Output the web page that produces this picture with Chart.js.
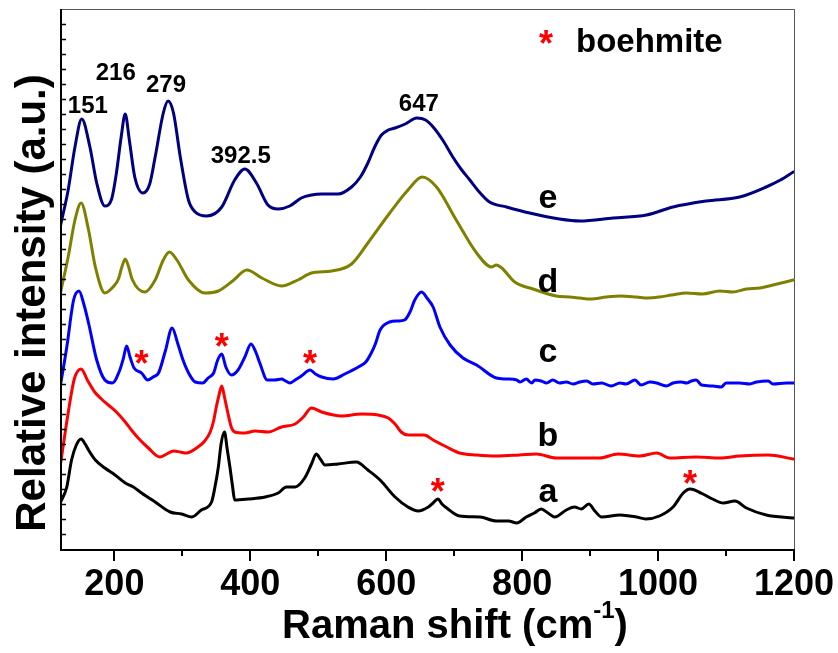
<!DOCTYPE html>
<html>
<head>
<meta charset="utf-8">
<script src="https://cdn.jsdelivr.net/npm/chart.js@4/dist/chart.umd.min.js"></script>
<style>
  html, body { margin: 0; padding: 0; background: #fff; }
  #wrap { width: 838px; height: 653px; }
</style>
</head>
<body>
<div id="wrap"><canvas id="raman" width="838" height="653"></canvas></div>
<script>
// Raman shift axis (cm-1)
const xTickValues = [200, 400, 600, 800, 1000, 1200];
const xMinorTickValues = [300, 500, 700, 900, 1100];
const yTickStep = 15;

// Sample a
const shiftA = [121, 130, 137, 144, 151, 157, 162, 172, 186, 201, 216, 228, 240, 260, 282, 299, 314, 328, 343, 348,
  353, 357, 362, 366, 370, 374, 377, 397, 422, 441, 453, 466, 480, 490, 497, 503, 510, 529, 556, 573,
  591, 613, 632, 647, 662, 669, 676, 682, 689, 708, 738, 762, 780, 792, 806, 818, 828, 838, 848, 865,
  877, 887, 898, 907, 917, 944, 968, 982, 1002, 1022, 1037, 1047, 1066, 1080, 1096, 1113, 1130, 1159, 1199];
const intensityA = [47, 62, 89, 104, 110, 105, 99, 89, 81, 74, 66, 62, 56, 47, 37, 35, 32, 39, 47, 62,
  82, 105, 117, 100, 82, 62, 49, 50, 52, 56, 62, 62, 71, 85, 95, 90, 84, 85, 87, 79,
  69, 52, 42, 38, 42, 46, 50, 45, 41, 33, 32, 28, 28, 26, 32, 36, 40, 36, 32, 39,
  42, 40, 45, 38, 32, 34, 32, 30, 33, 42, 56, 60, 55, 50, 46, 48, 41, 34, 31];

// Sample b
const shiftB = [121, 132, 141, 151, 161, 171, 181, 191, 203, 216, 225, 235, 250, 267, 277, 287, 297, 306, 323, 333,
  341, 346, 350, 354, 358, 362, 367, 372, 377, 392, 407, 426, 446, 466, 478, 490, 505, 534, 564, 588,
  603, 613, 622, 632, 656, 669, 689, 708, 733, 762, 796, 821, 850, 885, 914, 941, 973, 998, 1017, 1056,
  1091, 1120, 1162, 1199];
const intensityB = [86, 136, 170, 180, 168, 157, 150, 144, 137, 127, 119, 111, 101, 92, 95, 98, 97, 96, 102, 108,
  117, 128, 142, 154, 163, 152, 136, 122, 117, 116, 118, 117, 122, 125, 132, 141, 137, 133, 135, 134,
  131, 125, 117, 114, 114, 109, 102, 96, 94, 93, 94, 95, 91, 91, 91, 95, 93, 96, 91, 92,
  91, 93, 94, 90];

// Sample c
const shiftC = [121, 130, 140, 148, 155, 162, 174, 186, 197, 208, 213, 218, 223, 229, 240, 249, 257, 265, 275, 285,
  293, 301, 310, 319, 330, 338, 346, 352, 358, 364, 372, 382, 392, 401, 408, 414, 425, 436, 446, 452,
  458, 466, 475, 488, 496, 505, 522, 539, 559, 570, 578, 584, 591, 605, 617, 627, 635, 642, 652, 660,
  669, 679, 694, 713, 733, 762, 777, 792, 797, 806, 814, 819, 828, 836, 845, 855, 865, 875, 885, 895,
  904, 917, 931, 944, 953, 966, 975, 988, 998, 1012, 1022, 1034, 1042, 1049, 1056, 1064, 1081, 1093, 1100, 1120,
  1135, 1145, 1162, 1169, 1189, 1199];
const intensityC = [165, 202, 249, 258, 245, 226, 189, 169, 166, 179, 190, 203, 192, 181, 176, 169, 172, 176, 198, 221,
  206, 189, 175, 167, 166, 171, 176, 189, 195, 182, 174, 179, 192, 205, 197, 186, 169, 169, 170, 168,
  166, 169, 173, 179, 175, 172, 170, 175, 182, 187, 196, 205, 219, 227, 228, 229, 237, 249, 257, 251,
  242, 222, 204, 191, 184, 171, 170, 169, 167, 170, 166, 169, 168, 166, 169, 166, 167, 165, 167, 168,
  165, 166, 163, 166, 165, 169, 164, 167, 166, 163, 166, 167, 166, 168, 169, 164, 163, 162, 166, 166,
  165, 167, 168, 165, 166, 166];

// Sample d
const shiftD = [121, 132, 142, 151, 162, 172, 186, 198, 206, 211, 216, 221, 226, 245, 260, 272, 281, 292, 309, 333,
  353, 374, 395, 417, 446, 470, 490, 520, 549, 573, 603, 632, 653, 674, 703, 733, 755, 762, 770, 789,
  816, 850, 870, 885, 900, 924, 945, 968, 985, 1002, 1020, 1042, 1065, 1091, 1110, 1130, 1150, 1169, 1199];
const intensityD = [257, 292, 329, 346, 319, 282, 256, 262, 270, 282, 290, 282, 270, 257, 269, 289, 297, 289, 269, 256,
  258, 268, 279, 271, 263, 269, 276, 278, 285, 306, 334, 359, 372, 362, 329, 296, 282, 284, 281, 267,
  260, 253, 252, 251, 250, 252, 253, 252, 251, 252, 254, 256, 255, 258, 257, 260, 261, 264, 269];

// Sample e
const shiftE = [121, 132, 142, 152, 164, 174, 186, 196, 203, 210, 216, 222, 230, 242, 252, 260, 272, 279, 287, 297,
  309, 319, 336, 358, 377, 392, 409, 426, 441, 458, 475, 490, 505, 529, 549, 562, 573, 583, 593, 603,
  613, 628, 645, 658, 669, 684, 698, 710, 723, 737, 752, 777, 811, 855, 885, 934, 983, 1022, 1071, 1120,
  1159, 1180, 1199];
const intensityE = [324, 359, 402, 430, 402, 366, 343, 350, 376, 412, 435, 409, 372, 356, 365, 392, 436, 448, 436, 392,
  349, 337, 333, 342, 369, 380, 366, 344, 340, 343, 351, 354, 355, 355, 362, 372, 386, 402, 414, 419,
  421, 425, 431, 429, 422, 408, 392, 380, 369, 357, 347, 342, 336, 330, 328, 331, 334, 342, 348, 352,
  362, 369, 377];

// Band positions annotated above spectrum e
const peakLabels = ['151', '216', '279', '392.5', '647'];
const peakLabelShift = [161, 202, 276, 386, 648];
const peakLabelLevel = [436, 469, 457, 386, 438];

// Boehmite bands marked with a red asterisk
const boehmiteShift = [240, 358, 488, 676, 1047];
const boehmiteLevel = [192, 209, 192, 64, 72];

// Curve letters
const curveLetters = ['a', 'b', 'c', 'd', 'e'];
const curveLetterShift = [838, 838, 838, 838, 838];
const curveLetterLevel = [47, 103, 187, 257, 341];

const FONT = '"Liberation Sans", Arial, Helvetica, sans-serif';

function series(xs, ys) { return xs.map((x, i) => ({ x: x, y: ys[i] })); }
function lineSet(label, xs, ys, color) {
  return {
    label: label,
    data: series(xs, ys),
    borderColor: color,
    borderWidth: 3,
    pointRadius: 0,
    fill: false,
    cubicInterpolationMode: 'monotone',
    borderJoinStyle: 'round',
    borderCapStyle: 'round'
  };
}

const framePlugin = {
  id: 'frame',
  afterDatasetsDraw(chart) {
    const { ctx, chartArea: a, scales } = chart;
    const xs = scales.x, ys = scales.y;
    ctx.save();
    // thin top and right border
    ctx.strokeStyle = '#555';
    ctx.lineWidth = 1;
    ctx.beginPath();
    ctx.moveTo(a.left, a.top + 0.5);
    ctx.lineTo(a.right + 0.5, a.top + 0.5);
    ctx.lineTo(a.right + 0.5, a.bottom);
    ctx.stroke();
    // bold left and bottom axes
    ctx.strokeStyle = '#000';
    ctx.lineWidth = 2;
    ctx.beginPath();
    ctx.moveTo(a.left + 1, a.top);
    ctx.lineTo(a.left + 1, a.bottom + 1);
    ctx.lineTo(a.right + 1, a.bottom + 1);
    ctx.stroke();
    // x ticks, pointing out
    ctx.beginPath();
    xTickValues.forEach(v => {
      const px = Math.round(xs.getPixelForValue(v));
      ctx.moveTo(px, a.bottom + 1);
      ctx.lineTo(px, a.bottom + 12);
    });
    xMinorTickValues.forEach(v => {
      const px = Math.round(xs.getPixelForValue(v));
      ctx.moveTo(px, a.bottom + 1);
      ctx.lineTo(px, a.bottom + 7);
    });
    ctx.stroke();
    // y ticks, pointing in
    ctx.lineWidth = 1.5;
    ctx.beginPath();
    for (let v = ys.min + yTickStep; v < ys.max; v += yTickStep) {
      const py = Math.round(ys.getPixelForValue(v)) + 0.5;
      ctx.moveTo(a.left + 1, py);
      ctx.lineTo(a.left + 6, py);
    }
    ctx.stroke();
    ctx.restore();
  }
};

const textPlugin = {
  id: 'annotText',
  afterDraw(chart) {
    const { ctx, chartArea: a, scales } = chart;
    const xs = scales.x, ys = scales.y;
    ctx.save();
    ctx.fillStyle = '#000';
    ctx.textAlign = 'center';
    ctx.textBaseline = 'alphabetic';

    // band positions
    ctx.font = 'bold 24px ' + FONT;
    peakLabels.forEach((t, i) => {
      ctx.fillText(t, xs.getPixelForValue(peakLabelShift[i]), ys.getPixelForValue(peakLabelLevel[i]));
    });

    // curve letters
    ctx.font = 'bold 34px ' + FONT;
    curveLetters.forEach((t, i) => {
      ctx.fillText(t, xs.getPixelForValue(curveLetterShift[i]), ys.getPixelForValue(curveLetterLevel[i]));
    });

    // boehmite asterisks, ink centred on each band
    ctx.font = 'bold 36px ' + FONT;
    ctx.fillStyle = '#ff0000';
    const m = ctx.measureText('*');
    const off = (m.actualBoundingBoxAscent - m.actualBoundingBoxDescent) / 2;
    boehmiteShift.forEach((x, i) => {
      ctx.fillText('*', xs.getPixelForValue(x), ys.getPixelForValue(boehmiteLevel[i]) + off);
    });

    // key
    ctx.fillText('*', a.left + 486, a.top + 28 + off);
    ctx.fillStyle = '#000';
    ctx.font = 'bold 33px ' + FONT;
    ctx.textAlign = 'left';
    ctx.fillText('boehmite', a.left + 516, a.top + 43);

    // x axis title with superscript
    const big = 'bold 40px ' + FONT, small = 'bold 24px ' + FONT;
    ctx.font = big;
    const w1 = ctx.measureText('Raman shift (cm').width;
    const w3 = ctx.measureText(')').width;
    ctx.font = small;
    const w2 = ctx.measureText('-1').width;
    const total = w1 + w2 + w3;
    const x0 = (277 + 633) / 2 - total / 2;
    const base = 638;
    ctx.font = big;
    ctx.fillText('Raman shift (cm', x0, base);
    ctx.font = small;
    ctx.fillText('-1', x0 + w1, base - 20);
    ctx.font = big;
    ctx.fillText(')', x0 + w1 + w2, base);

    // y axis title
    ctx.translate(45, (a.top + a.bottom) / 2 + 24);
    ctx.rotate(-Math.PI / 2);
    ctx.textAlign = 'center';
    ctx.font = 'bold 42px ' + FONT;
    ctx.fillText('Relative intensity (a.u.)', 0, 0);
    ctx.restore();
  }
};

new Chart(document.getElementById('raman'), {
  type: 'line',
  data: {
    datasets: [
      lineSet('a', shiftA, intensityA, '#000000'),
      lineSet('b', shiftB, intensityB, '#ff0000'),
      lineSet('c', shiftC, intensityC, '#0000ff'),
      lineSet('d', shiftD, intensityD, '#808000'),
      lineSet('e', shiftE, intensityE, '#000080')
    ]
  },
  options: {
    responsive: false,
    animation: false,
    parsing: false,
    layout: { padding: { top: 9, right: 44, left: 0, bottom: 0 } },
    plugins: { legend: { display: false }, tooltip: { enabled: false } },
    scales: {
      x: {
        type: 'linear',
        min: 120,
        max: 1200,
        afterFit(s) { s.height = 104; s.paddingLeft = 0; s.paddingRight = 0; },
        afterBuildTicks(s) { s.ticks = xTickValues.map(v => ({ value: v })); },
        grid: { display: false, drawTicks: false },
        border: { display: false },
        ticks: {
          autoSkip: false,
          maxRotation: 0,
          padding: 14,
          color: '#000',
          font: { family: FONT, size: 36, weight: 'bold' },
          callback: v => String(v)
        }
      },
      y: {
        type: 'linear',
        min: 0,
        max: 540,
        afterFit(s) { s.width = 60; },
        grid: { display: false, drawTicks: false },
        border: { display: false },
        ticks: { display: false, stepSize: yTickStep }
      }
    }
  },
  plugins: [framePlugin, textPlugin]
});
</script>
</body>
</html>
